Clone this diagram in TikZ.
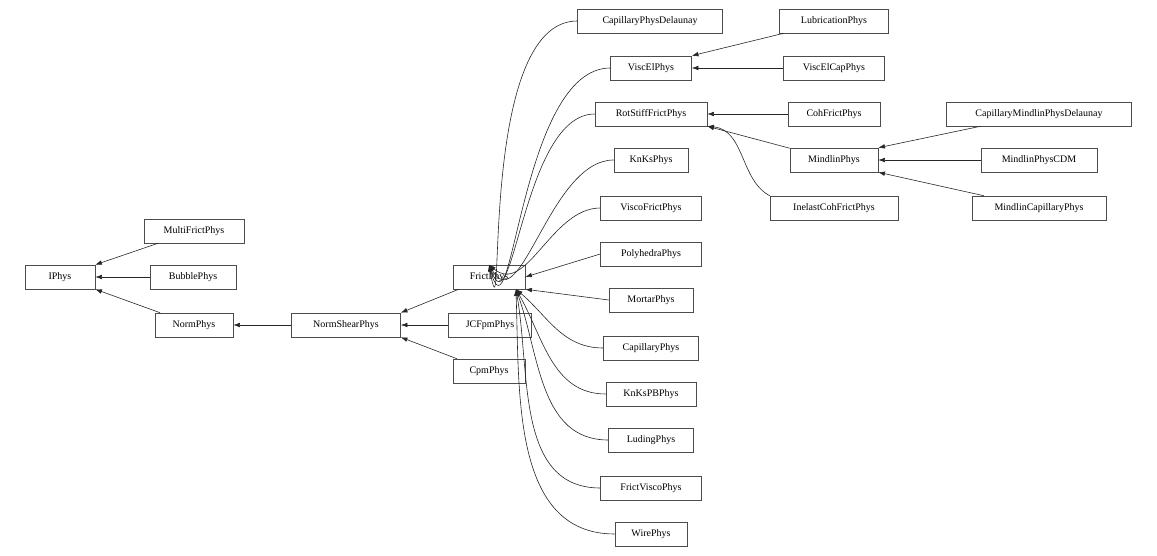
\documentclass[tikz,border=0pt]{standalone}
\usepackage{fontspec}
\setmainfont{Liberation Serif}
\usetikzlibrary{arrows.meta}
\tikzset{
  cls/.style={draw=black!70, fill=white, inner sep=0pt, minimum height=18pt, font=\fontsize{7.5}{9}\selectfont},
  inh/.style={-{Latex[length=5pt,width=3.5pt]}, black!85, line width=0.45pt}
}
\begin{document}
\begin{tikzpicture}[x=0.75pt,y=-0.75pt]
    \useasboundingbox (0,0) rectangle (1157,556);

    % Classes: name/x/y/width/label
    \foreach \n/\x/\y/\w/\t in {iphys/60/277/70/IPhys, multi/194/231/100/MultiFrictPhys, bubble/193/277/86/BubblePhys,
      norm/194/325/78/NormPhys, nshear/346/325/109/NormShearPhys, jcfpm/490/325/83/JCFpmPhys, cpm/489/371/72/CpmPhys,
      frict/489/277/72/FrictPhys, capdel/650/21/145/CapillaryPhysDelaunay, viscel/651/68/81/ViscElPhys,
      rotstiff/651/114/112/RotStiffFrictPhys, knks/651/160/74/KnKsPhys, viscofr/651/208/101/ViscoFrictPhys,
      poly/651/254/101/PolyhedraPhys, mortar/651/300/84/MortarPhys, capil/651/348/95/CapillaryPhys,
      knkspb/651/394/90/KnKsPBPhys, luding/651/440/85/LudingPhys, frvisco/651/488/101/FrictViscoPhys,
      wire/651/534/72/WirePhys, lubric/834/21/109/LubricationPhys, viscelcap/834/68/101/ViscElCapPhys,
      cohfr/834/114/92/CohFrictPhys, mindlin/834/160/88/MindlinPhys, inelast/834/208/128/InelastCohFrictPhys,
      capmin/1039/114/185/CapillaryMindlinPhysDelaunay, mincdm/1039/160/116/MindlinPhysCDM,
      mincap/1039/208/134/MindlinCapillaryPhys} {
      \node[cls, minimum width=\w*0.75pt] (\n) at (\x,\y) {\t};
    }

    % Straight inheritance edges
    \draw[inh] (multi) -- (iphys.north east);
    \draw[inh] (bubble) -- (iphys);
    \draw[inh] (norm) -- (iphys.south east);
    \draw[inh] (nshear) -- (norm);
    \draw[inh] (frict) -- (nshear.north east);
    \draw[inh] (jcfpm) -- (nshear);
    \draw[inh] (cpm) -- (nshear.south east);
    \draw[inh] (lubric) -- (viscel.north east);
    \draw[inh] (viscelcap) -- (viscel);
    \draw[inh] (cohfr) -- (rotstiff);
    \draw[inh] (mindlin) -- (rotstiff.south east);
    \draw[inh] (inelast.north west) .. controls (740,180) and (745,130) .. (rotstiff.south east);
    \draw[inh] (capmin) -- (mindlin.north east);
    \draw[inh] (mincdm) -- (mindlin);
    \draw[inh] (mincap) -- (mindlin.south east);
    \draw[inh] (poly.west) -- (frict.east);
    \draw[inh] (mortar.west) -- (frict.south east);

    % Curved edges into FrictPhys
    \foreach \n/\a in {capdel/-80, viscel/-75, rotstiff/-70, knks/-60, viscofr/-40} {
      \draw[inh] (\n.west) to[out=180, in=\a] (frict.north);
    }
    \foreach \n/\a in {capil/-40, knkspb/-60, luding/-70, frvisco/-80, wire/-88} {
      \draw[inh] (\n.west) to[out=180, in=\a] ([xshift=-7pt]frict.south east);
    }
  \end{tikzpicture}
\end{document}
